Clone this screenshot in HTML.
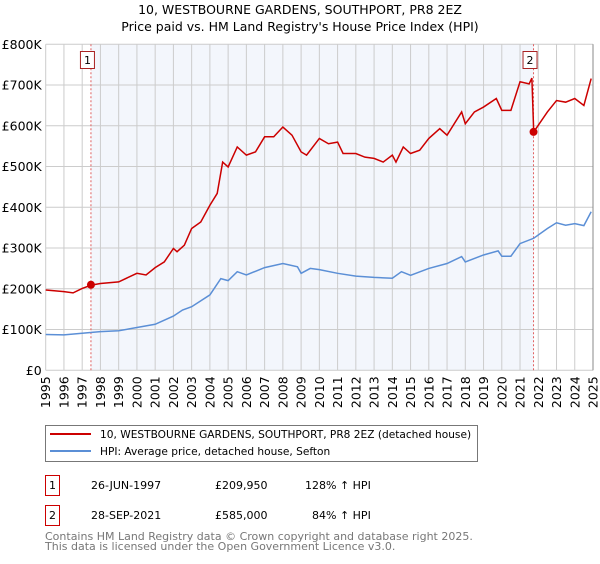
<!DOCTYPE html>
<html><head><meta charset="utf-8"><style>
body{margin:0;background:#fff;font-family:"DejaVu Sans","Liberation Sans",sans-serif;}
svg text{font-family:"DejaVu Sans","Liberation Sans",sans-serif;}
</style></head><body>
<svg id="chart" width="600" height="560" xmlns="http://www.w3.org/2000/svg">
<text x="300" y="14" text-anchor="middle" font-size="12.5">10, WESTBOURNE GARDENS, SOUTHPORT, PR8 2EZ</text>
<text x="300" y="31" text-anchor="middle" font-size="12.5">Price paid vs. HM Land Registry's House Price Index (HPI)</text>
<g id="plot"></g>
<g>
<rect x="45.5" y="425.5" width="432" height="36" fill="#fff" stroke="#777"/>
<line x1="50" y1="434" x2="91" y2="434" stroke="#cc0000" stroke-width="2"/>
<text x="100" y="438" font-size="10.6">10, WESTBOURNE GARDENS, SOUTHPORT, PR8 2EZ (detached house)</text>
<line x1="50" y1="451" x2="91" y2="451" stroke="#5b8fd6" stroke-width="2"/>
<text x="100" y="455" font-size="10.6">HPI: Average price, detached house, Sefton</text>
</g>
<g font-size="11">
<rect x="45.5" y="475.5" width="14" height="20" fill="#fff" stroke="#cc0000"/>
<text x="49" y="489">1</text>
<text x="91" y="489">26-JUN-1997</text>
<text x="215" y="489">£209,950</text>
<text x="305" y="489">128% ↑ HPI</text>
<rect x="45.5" y="505.5" width="14" height="20" fill="#fff" stroke="#cc0000"/>
<text x="49" y="519">2</text>
<text x="91" y="519">28-SEP-2021</text>
<text x="215" y="519">£585,000</text>
<text x="312" y="519">84% ↑ HPI</text>
</g>
<g font-size="11" fill="#777">
<text x="45" y="540">Contains HM Land Registry data © Crown copyright and database right 2025.</text>
<text x="45" y="550">This data is licensed under the Open Government Licence v3.0.</text>
</g>
</svg>
<script>
const hpiYears=[1995,1996,1997,1998,1999,2000,2001,2002,2002.5,2003,2004,2004.6,2005,2005.5,2006,2007,2008,2008.8,2009,2009.5,2010,2011,2012,2013,2014,2014.5,2015,2016,2017,2017.8,2018,2019,2019.8,2020,2020.5,2021,2021.75,2022.5,2023,2023.5,2024,2024.5,2024.9];
const hpiValues=[88,87,91,95,97,105,113,133,148,156,185,225,220,242,234,252,262,254,238,250,247,238,231,228,226,242,233,250,262,279,266,283,293,280,280,311,324,348,362,356,360,355,389];
const priceYears=[1995,1996,1996.5,1997,1997.5,1998,1999,2000,2000.5,2001,2001.5,2002,2002.2,2002.6,2003,2003.5,2004,2004.4,2004.7,2005,2005.5,2006,2006.5,2007,2007.5,2008,2008.5,2009,2009.3,2010,2010.5,2011,2011.3,2012,2012.5,2013,2013.5,2014,2014.2,2014.6,2015,2015.5,2016,2016.6,2017,2017.8,2018,2018.5,2019,2019.7,2020,2020.5,2021,2021.5,2021.65,2021.75,2022.5,2023,2023.5,2024,2024.5,2024.9];
const priceValues=[197,193,190,201,209,213,217,238,234,252,266,299,291,307,348,364,405,434,511,499,548,528,536,573,573,597,577,536,528,569,556,560,532,532,523,520,511,528,511,548,532,540,569,593,577,634,605,634,646,667,638,638,708,703,717,585,634,662,658,667,650,716];
const yTicks=[0,100,200,300,400,500,600,700,800];
const yTickLabels=["£0","£100K","£200K","£300K","£400K","£500K","£600K","£700K","£800K"];
const xTicks=[1995,1996,1997,1998,1999,2000,2001,2002,2003,2004,2005,2006,2007,2008,2009,2010,2011,2012,2013,2014,2015,2016,2017,2018,2019,2020,2021,2022,2023,2024,2025];
const sales=[{n:"1",year:1997.48,value:209.95},{n:"2",year:2021.74,value:585}];

const X0=45.7,X1=593,Y0=370.3,Y1=44.3;
const sx=y=>X0+(y-1995)/30*(X1-X0);
const sy=v=>Y0-(v/800)*(Y0-Y1);
const NS="http://www.w3.org/2000/svg";
const g=document.getElementById('plot');
function mk(t,a){const e=document.createElementNS(NS,t);for(const k in a)e.setAttribute(k,a[k]);g.appendChild(e);return e;}
const bg=mk('rect',{x:X0,y:Y1,width:X1-X0,height:Y0-Y1,fill:'#fff'});


const sh=mk('rect',{x:sx(sales[0].year),y:Y1,width:sx(sales[1].year)-sx(sales[0].year),height:Y0-Y1,fill:'#eef2fb',opacity:0.7});


xTicks.forEach(t=>{const l=mk('line',{x1:sx(t),x2:sx(t),y1:Y1,y2:Y0,stroke:'#ccc','stroke-width':1});


const tx=mk('text',{x:0,y:0,'font-size':12.5,'text-anchor':'end',transform:`translate(${sx(t)+4.5},${Y0+6}) rotate(-90)`});
tx.textContent=t;

});
yTicks.forEach((t,i)=>{const l=mk('line',{x1:X0,x2:X1,y1:sy(t),y2:sy(t),stroke:'#ccc','stroke-width':1});


const tx=mk('text',{x:X0-4,y:sy(t)+4.5,'font-size':12.5,'text-anchor':'end'});
tx.textContent=yTickLabels[i];

});
sales.forEach(s=>{const l=mk('line',{x1:sx(s.year),x2:sx(s.year),y1:Y1,y2:Y0,stroke:'#e06060','stroke-width':1,'stroke-dasharray':'2,2'});

});
const hp=mk('polyline',{points:hpiYears.map((y,i)=>sx(y)+','+sy(hpiValues[i])).join(' '),fill:'none',stroke:'#5b8fd6','stroke-width':1.5});


const pp=mk('polyline',{points:priceYears.map((y,i)=>sx(y)+','+sy(priceValues[i])).join(' '),fill:'none',stroke:'#cc0000','stroke-width':1.5});


sales.forEach(s=>{const c=mk('circle',{cx:sx(s.year),cy:sy(s.value),r:4,fill:'#cc0000'});


const r=mk('rect',{x:sx(s.year)-10.5,y:51.5,width:14,height:17,fill:'#fff',stroke:'#aa2222'});


const t=mk('text',{x:sx(s.year)-3.5,y:64,'font-size':11,'text-anchor':'middle'});
t.textContent=s.n;

});
const ax=mk('line',{x1:X1,x2:X1,y1:Y1,y2:Y0,stroke:'#888','stroke-width':1});


</script>
</body></html>
